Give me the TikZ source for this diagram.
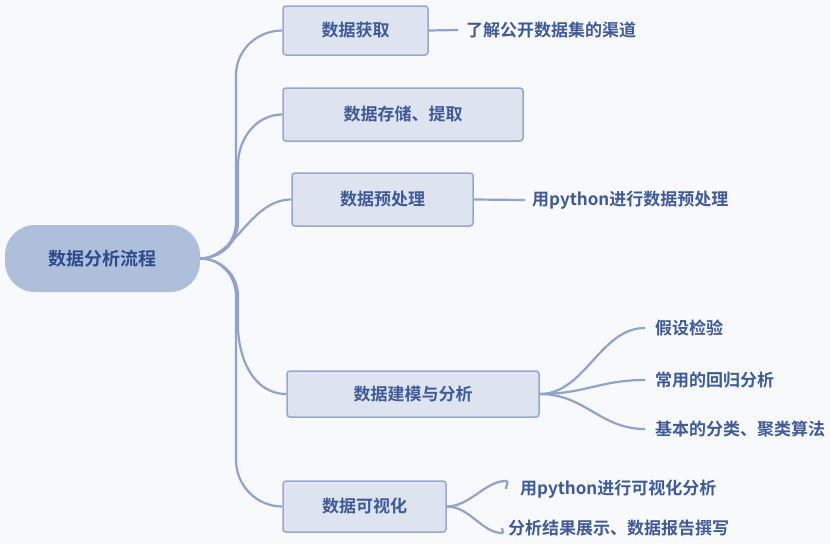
\documentclass[tikz,border=0pt]{standalone}
\usepackage{fontspec}
\setmainfont{Noto Sans CJK SC}[BoldFont={Noto Sans CJK SC Bold}]
\definecolor{bgc}{HTML}{F7F9FC}
\definecolor{rootfill}{HTML}{AEBFDC}
\definecolor{roottext}{HTML}{2C4A8C}
\definecolor{boxfill}{HTML}{DDE3EF}
\definecolor{boxline}{HTML}{96A8CB}
\definecolor{linec}{HTML}{8FA3CB}
\definecolor{txt}{HTML}{3F5A98}
\begin{document}
\begin{tikzpicture}[x=1pt, y=-1pt,
    root/.style={rounded corners=30pt, fill=rootfill, text=roottext, minimum width=195pt, minimum height=67pt, font=\fontsize{18}{20}\selectfont\bfseries},
    box/.style={draw=boxline, line width=1.5pt, fill=boxfill, rounded corners=3pt, text=txt, font=\fontsize{17}{19}\selectfont\bfseries},
    leaf/.style={text=txt, inner ysep=0pt, font=\fontsize{17}{19}\selectfont\bfseries},
    branch/.style={draw=linec, line width=2.2pt}]
    \useasboundingbox [fill=bgc] (0,0) rectangle (830,544);
    \node [root] (r) at (102.5,258.5) {数据分析流程};
    \node [box, minimum width=145pt, minimum height=49pt] (a) at (355.5,30.5) {数据获取};
    \node [box, minimum width=240pt, minimum height=53pt] (b) at (403,114.5) {数据存储、提取};
    \node [box, minimum width=181pt, minimum height=53pt] (c) at (382.5,199.5) {数据预处理};
    \node [box, minimum width=252pt, minimum height=46pt] (d) at (413,394) {数据建模与分析};
    \node [box, minimum width=163pt, minimum height=51pt] (e) at (364.5,506.5) {数据可视化};
    \node [leaf, anchor=west, inner xsep=8pt] (a1) at (458,30) {了解公开数据集的渠道};
    \node [leaf, anchor=west, inner xsep=7pt] (c1) at (525,200) {用python进行数据预处理};
    \node [leaf, anchor=west, inner xsep=10pt] (d1) at (645,328) {假设检验};
    \node [leaf, anchor=west, inner xsep=10pt] (d2) at (645,380) {常用的回归分析};
    \node [leaf, anchor=west, inner xsep=10pt] (d3) at (645,429) {基本的分类、聚类算法};
    \node [leaf, anchor=west, inner xsep=14pt] (e1) at (506,489) {用python进行可视化分析};
    \node [leaf, anchor=west, inner xsep=6pt] (e2) at (502,528) {分析结果展示、数据报告撰写};
    \draw [branch] (r.east) to[out=0, in=-90] (236,222) -- (236,75) to[out=90, in=180] (a.west);
    \draw [branch] (r.east) to[out=0, in=-90] (238,222) -- (238,165) to[out=90, in=180] (b.west);
    \draw [branch] (r.east) .. controls (235,258) and (250,199.5) .. (c.west);
    \draw [branch] (r.east) to[out=0, in=90] (238,296) -- (238,325) to[out=-90, in=180] (d.west);
    \draw [branch] (r.east) to[out=0, in=90] (236,296) -- (236,460) to[out=-90, in=180] (e.west);
    \draw [branch] (a.east) -- (a1.west);
    \draw [branch] (c.east) -- (c1.west);
    \draw [branch] (d.east) .. controls (585,394) and (600,328) .. (d1.west);
    \draw [branch] (d.east) .. controls (585,394) and (600,380) .. (d2.west);
    \draw [branch] (d.east) .. controls (585,394) and (600,429) .. (d3.west);
    \draw [branch] (e.east) .. controls (470,506.5) and (485,481) .. ([yshift=8pt]e1.west) to[out=0, in=90] (e1.west);
    \draw [branch] (e.east) .. controls (470,506.5) and (482,533) .. ([yshift=-5pt]e2.west) to[out=0, in=-90] (e2.west);
\end{tikzpicture}
\end{document}
